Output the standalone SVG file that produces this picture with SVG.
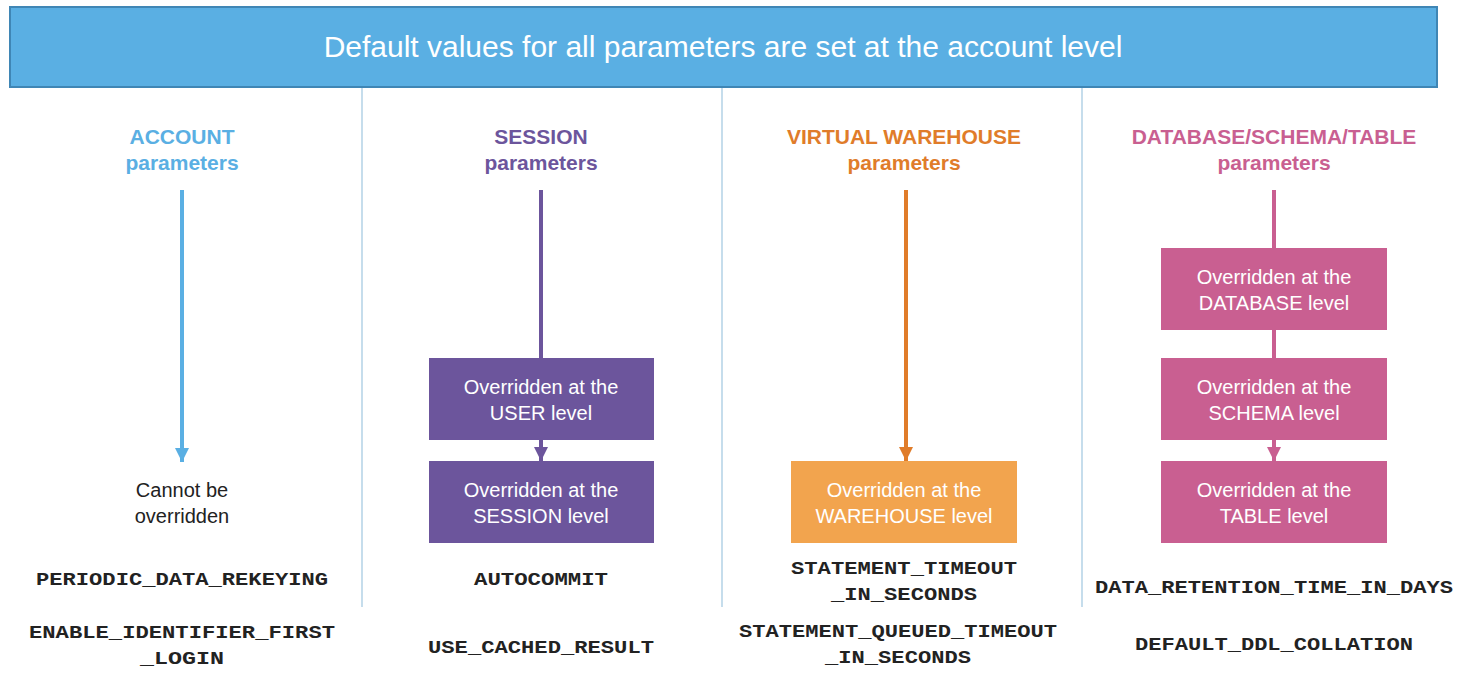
<svg xmlns="http://www.w3.org/2000/svg" width="1466" height="678" viewBox="0 0 1466 678">
<style>
.t{font-family:"Liberation Sans",Arial,sans-serif;text-anchor:middle}
.h{font-weight:bold;font-size:21px}
.b{fill:#fff;font-size:20px}
.m{font-family:"Liberation Mono","Courier New",monospace;font-weight:bold;font-size:19px;text-anchor:middle;fill:#222}
.div{stroke:#9fc6e0;stroke-width:1.2}
</style>
<defs>
<marker id="aB" viewBox="0 0 10 10" refX="5" refY="10" markerWidth="14" markerHeight="14" markerUnits="userSpaceOnUse" orient="auto"><path d="M0,0L10,0L5,10z" transform="rotate(-90 5 5)" fill="#5aafe3"/></marker>
<marker id="aP" viewBox="0 0 10 10" refX="10" refY="5" markerWidth="14" markerHeight="14" markerUnits="userSpaceOnUse" orient="auto"><path d="M0,0L10,5L0,10z" fill="#6c559c"/></marker>
<marker id="aO" viewBox="0 0 10 10" refX="10" refY="5" markerWidth="14" markerHeight="14" markerUnits="userSpaceOnUse" orient="auto"><path d="M0,0L10,5L0,10z" fill="#e07c2a"/></marker>
<marker id="aK" viewBox="0 0 10 10" refX="10" refY="5" markerWidth="14" markerHeight="14" markerUnits="userSpaceOnUse" orient="auto"><path d="M0,0L10,5L0,10z" fill="#c95f91"/></marker>
<marker id="aA" viewBox="0 0 10 10" refX="10" refY="5" markerWidth="14" markerHeight="14" markerUnits="userSpaceOnUse" orient="auto"><path d="M0,0L10,5L0,10z" fill="#5aafe3"/></marker>
</defs>
<rect width="1466" height="678" fill="#fff"/>
<g id="header"><rect x="10" y="7" width="1427" height="80" fill="#5aafe3" stroke="#3f86b5" stroke-width="2"/>
<text class="t" x="723" y="57" fill="#fff" font-size="30">Default values for all parameters are set at the account level</text></g>
<g id="dividers"><line class="div" x1="362" y1="88" x2="362" y2="607"/><line class="div" x1="722" y1="88" x2="722" y2="607"/><line class="div" x1="1082" y1="88" x2="1082" y2="607"/></g>
<g id="connectors" stroke-width="4">
<line x1="182" y1="190" x2="182" y2="462" stroke="#5aafe3" marker-end="url(#aA)"/>
<line x1="541" y1="190" x2="541" y2="358" stroke="#6c559c"/>
<line x1="541" y1="440" x2="541" y2="461" stroke="#6c559c" marker-end="url(#aP)"/>
<line x1="906" y1="190" x2="906" y2="461" stroke="#e07c2a" marker-end="url(#aO)"/>
<line x1="1274" y1="190" x2="1274" y2="248" stroke="#c95f91"/>
<line x1="1274" y1="330" x2="1274" y2="358" stroke="#c95f91"/>
<line x1="1274" y1="440" x2="1274" y2="461" stroke="#c95f91" marker-end="url(#aK)"/>
</g>
<g id="account"><text class="t h" fill="#5aafe3"><tspan x="182" y="144">ACCOUNT</tspan><tspan x="182" y="170">parameters</tspan></text>
<text class="t" font-size="20" fill="#222"><tspan x="182" y="497">Cannot be</tspan><tspan x="182" y="523">overridden</tspan></text>
<text class="m" x="182" y="585" textLength="292" lengthAdjust="spacingAndGlyphs">PERIODIC_DATA_REKEYING</text>
<text class="m" x="182" y="638" textLength="306" lengthAdjust="spacingAndGlyphs">ENABLE_IDENTIFIER_FIRST</text>
<text class="m" x="182" y="664" textLength="84" lengthAdjust="spacingAndGlyphs">_LOGIN</text></g>
<g id="session"><text class="t h" fill="#6c559c"><tspan x="541" y="144">SESSION</tspan><tspan x="541" y="170">parameters</tspan></text>
<text class="m" x="541" y="585" textLength="134" lengthAdjust="spacingAndGlyphs">AUTOCOMMIT</text>
<text class="m" x="541" y="653" textLength="226" lengthAdjust="spacingAndGlyphs">USE_CACHED_RESULT</text></g>
<g id="user-box"><rect x="429" y="358" width="225" height="82" fill="#6c559c"/><text class="t b"><tspan x="541" y="394">Overridden at the</tspan><tspan x="541" y="420">USER level</tspan></text></g>
<g id="session-box"><rect x="429" y="461" width="225" height="82" fill="#6c559c"/><text class="t b"><tspan x="541" y="497">Overridden at the</tspan><tspan x="541" y="523">SESSION level</tspan></text></g>
<g id="warehouse"><text class="t h" fill="#e07c2a"><tspan x="904" y="144">VIRTUAL WAREHOUSE</tspan><tspan x="904" y="170">parameters</tspan></text>
<text class="m" x="904" y="574" textLength="226" lengthAdjust="spacingAndGlyphs">STATEMENT_TIMEOUT</text>
<text class="m" x="904" y="600" textLength="146" lengthAdjust="spacingAndGlyphs">_IN_SECONDS</text>
<text class="m" x="898" y="637" textLength="318" lengthAdjust="spacingAndGlyphs">STATEMENT_QUEUED_TIMEOUT</text>
<text class="m" x="898" y="663" textLength="146" lengthAdjust="spacingAndGlyphs">_IN_SECONDS</text></g>
<g id="warehouse-box"><rect x="791" y="461" width="226" height="82" fill="#f2a44e"/><text class="t b"><tspan x="904" y="497">Overridden at the</tspan><tspan x="904" y="523">WAREHOUSE level</tspan></text></g>
<g id="database"><text class="t h" fill="#c95f91"><tspan x="1274" y="144">DATABASE/SCHEMA/TABLE</tspan><tspan x="1274" y="170">parameters</tspan></text>
<text class="m" x="1274" y="593" textLength="358" lengthAdjust="spacingAndGlyphs">DATA_RETENTION_TIME_IN_DAYS</text>
<text class="m" x="1274" y="650" textLength="278" lengthAdjust="spacingAndGlyphs">DEFAULT_DDL_COLLATION</text></g>
<g id="db-box"><rect x="1161" y="248" width="226" height="82" fill="#c95f91"/><text class="t b"><tspan x="1274" y="284">Overridden at the</tspan><tspan x="1274" y="310">DATABASE level</tspan></text></g>
<g id="schema-box"><rect x="1161" y="358" width="226" height="82" fill="#c95f91"/><text class="t b"><tspan x="1274" y="394">Overridden at the</tspan><tspan x="1274" y="420">SCHEMA level</tspan></text></g>
<g id="table-box"><rect x="1161" y="461" width="226" height="82" fill="#c95f91"/><text class="t b"><tspan x="1274" y="497">Overridden at the</tspan><tspan x="1274" y="523">TABLE level</tspan></text></g>
</svg>
